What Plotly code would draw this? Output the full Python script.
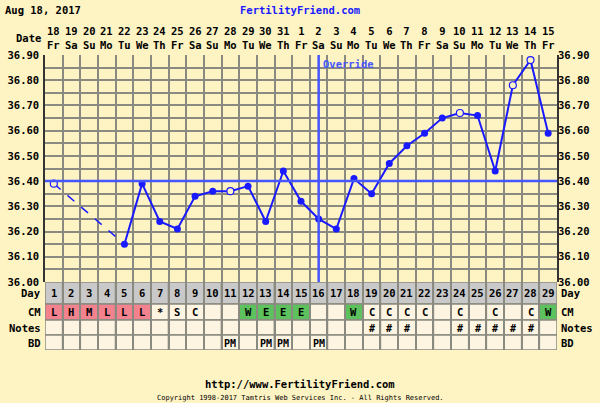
import plotly.graph_objects as go

days = list(range(1, 30))
dates = [18, 19, 20, 21, 22, 23, 24, 25, 26, 27, 28, 29, 30, 31, 1, 2, 3, 4, 5, 6, 7, 8, 9, 10, 11, 12, 13, 14, 15]
weekdays = (['Fr', 'Sa', 'Su', 'Mo', 'Tu', 'We', 'Th'] * 5)[:29]
temps = [36.39, None, None, None, 36.15, 36.39, 36.24, 36.21, 36.34, 36.36,
         36.36, 36.38, 36.24, 36.44, 36.32, 36.25, 36.21, 36.41, 36.35, 36.47,
         36.54, 36.59, 36.65, 36.67, 36.66, 36.44, 36.78, 36.88, 36.59]
open_days = [1, 11, 24, 27, 28]
coverline = 36.40
override_day = 16
cm = ['L', 'H', 'M', 'L', 'L', 'L', '*', 'S', 'C', '', '', 'W', 'E', 'E', 'E', '', '', 'W',
      'C', 'C', 'C', 'C', '', 'C', '', 'C', '', 'C', 'W']
pink_days = [1, 2, 3, 4, 5, 6]
green_days = [12, 13, 14, 15, 18, 29]
notes_days = [19, 20, 21, 24, 25, 26, 27, 28]
bd_days = [11, 13, 14, 16]

BG = '#fdf3c3'
CELL = '#fdf5e1'
GRID = '#8a8a80'
BLUE = '#1a1aff'
FONT = 'DejaVu Sans Mono'


def px(x, y):
    # pixel position -> paper coords (plot area 45..557 x 55..350)
    return (x - 45) / 512, (350 - y) / 295


def font(size=10.5, color='black'):
    return dict(size=size, family=FONT, color=color)


def label(text, xpx, ypx, anchor='center', f=None):
    x, y = px(xpx, ypx)
    return dict(x=x, y=y, xref='paper', yref='paper', text=text, showarrow=False,
                xanchor=anchor, yanchor='middle', font=f or font())


fig = go.Figure()

# dashed segment over missing days
fig.add_trace(go.Scatter(x=[1, 5], y=[temps[0], temps[4]], mode='lines',
                         line=dict(color=BLUE, width=1.5, dash='dash'), yaxis='y'))
fig.add_trace(go.Scatter(x=days[4:], y=temps[4:], mode='lines',
                         line=dict(color=BLUE, width=2), yaxis='y'))
fx = [d for d, t in zip(days, temps) if t is not None and d not in open_days]
fy = [t for d, t in zip(days, temps) if t is not None and d not in open_days]
fig.add_trace(go.Scatter(x=fx, y=fy, mode='markers',
                         marker=dict(color=BLUE, size=7), yaxis='y'))
oy = [temps[d - 1] for d in open_days]
fig.add_trace(go.Scatter(x=open_days, y=oy, mode='markers',
                         marker=dict(color=BG, size=7, line=dict(color=BLUE, width=1.2)),
                         yaxis='y'))
fig.add_trace(go.Scatter(x=[None], y=[None], yaxis='y3', showlegend=False))

shapes = []
ann = []
shapes.append(dict(type='line', xref='x', yref='y', x0=0.5, x1=29.5, y0=coverline, y1=coverline,
                   line=dict(color='#4656ff', width=2.5), layer='above'))
shapes.append(dict(type='line', xref='x', yref='y', x0=override_day, x1=override_day, y0=36.0, y1=36.9,
                   line=dict(color='#4656ff', width=2.5), layer='above'))
ann.append(dict(x=override_day + 0.15, y=36.865, xref='x', yref='y', text='<b>Override</b>',
                showarrow=False, xanchor='left', yanchor='middle', font=font(10.5, '#4656ff')))

rows = [('Day', 46, 68), ('CM', 30, 46), ('Notes', 15, 30), ('BD', 0, 15)]
for d in days:
    for name, y0, y1 in rows:
        fill = CELL
        if name == 'Day':
            fill = '#c9c9c9'
        elif name == 'CM' and d in pink_days:
            fill = '#f3828f'
        elif name == 'CM' and d in green_days:
            fill = '#5dc15d'
        shapes.append(dict(type='rect', xref='x', yref='y2', x0=d - 0.5, x1=d + 0.5, y0=y0, y1=y1,
                           fillcolor=fill, line=dict(color=GRID, width=1.5), layer='below'))
    ann.append(dict(x=d, y=57, xref='x', yref='y2', text='<b>%d</b>' % d, showarrow=False, font=font()))
    ann.append(dict(x=d, y=38, xref='x', yref='y2', text='<b>%s</b>' % cm[d - 1], showarrow=False, font=font()))
    if d in notes_days:
        ann.append(dict(x=d, y=22, xref='x', yref='y2', text='<b>#</b>', showarrow=False, font=font(10)))
    if d in bd_days:
        ann.append(dict(x=d, y=7, xref='x', yref='y2', text='<b>PM</b>', showarrow=False, font=font(10)))
    ann.append(dict(x=d, y=px(0, 38)[1], xref='x', yref='paper', yanchor='middle',
                    text='<b>%d</b><br><b>%s</b>' % (dates[d - 1], weekdays[d - 1]),
                    showarrow=False, font=font()))
for name, y0, y1 in rows:
    ymid = 350 - (y0 + y1) / 2
    ann.append(label('<b>%s</b>' % name, 43, ymid, 'right'))
    ann.append(label('<b>%s</b>' % name, 559, ymid, 'left'))

ann.append(label('<b>Date</b>', 43, 38, 'right'))
ann.append(label('<b>Aug 18, 2017</b>', 3, 10, 'left'))
ann.append(label('<b>FertilityFriend.com</b>', 300, 10, 'center', font(10.5, BLUE)))
ann.append(label('<b>http://www.FertilityFriend.com</b>', 300, 384))
ann.append(label('Copyright 1998-2017 Tamtris Web Services Inc. - All Rights Reserved.', 300, 398,
                 'center', font(7)))

ytick = [round(36.0 + 0.05 * i, 2) for i in range(19)]
ytext = ['<b>%.2f</b>' % v if i % 2 == 0 else '' for i, v in enumerate(ytick)]

fig.update_layout(
    width=600, height=403, paper_bgcolor=BG, plot_bgcolor=BG, showlegend=False,
    margin=dict(l=45, r=43, t=55, b=53, autoexpand=False),
    xaxis=dict(range=[0.5, 29.5], tickvals=[i + 0.5 for i in range(30)], showticklabels=False,
               showgrid=True, gridcolor=GRID, gridwidth=1.5, zeroline=False, ticks='', automargin=False),
    yaxis=dict(domain=[68 / 295, 1], range=[36.0, 36.9], tickvals=ytick, ticktext=ytext,
               showgrid=True, gridcolor=GRID, gridwidth=1.5, zeroline=False, ticks='', ticklabelstandoff=2,
               tickfont=font(), showline=True, linecolor='#333', linewidth=1.5, mirror=True, automargin=False),
    yaxis3=dict(overlaying='y', side='right', range=[36.0, 36.9], tickvals=ytick, ticktext=ytext,
                showgrid=False, zeroline=False, tickfont=font(), ticks='', automargin=False),
    yaxis2=dict(domain=[0, 68 / 295], range=[0, 68], visible=False),
    shapes=shapes, annotations=ann,
)
fig.write_html('out.html', config={'displayModeBar': False},
               post_script="document.body.style.margin='0';")
